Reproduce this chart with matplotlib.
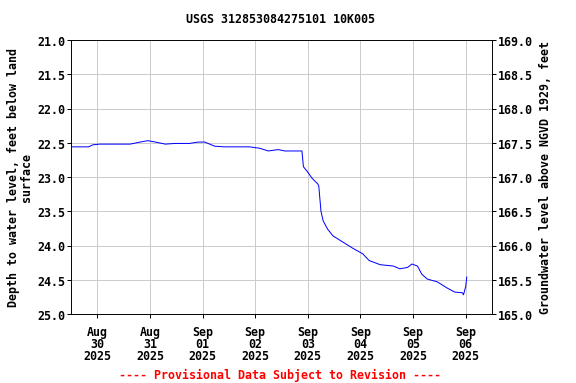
import matplotlib
matplotlib.use("Agg")
import matplotlib.pyplot as plt
import matplotlib.dates as mdates
import pandas as pd
import numpy as np

times = ["2025-08-29 12:00", "2025-08-29 20:00", "2025-08-29 22:00", "2025-08-30 01:00",
         "2025-08-30 15:00", "2025-08-30 19:30", "2025-08-30 23:00", "2025-08-31 02:30",
         "2025-08-31 07:00", "2025-08-31 11:30", "2025-08-31 18:00", "2025-08-31 22:00",
         "2025-09-01 01:00", "2025-09-01 05:30", "2025-09-01 10:00", "2025-09-01 21:30",
         "2025-09-02 02:00", "2025-09-02 06:00", "2025-09-02 10:30", "2025-09-02 13:30",
         "2025-09-02 21:20", "2025-09-02 22:00", "2025-09-03 00:00", "2025-09-03 02:00",
         "2025-09-03 04:30", "2025-09-03 05:00", "2025-09-03 06:00", "2025-09-03 07:00",
         "2025-09-03 09:00", "2025-09-03 11:30", "2025-09-03 16:00", "2025-09-03 20:30",
         "2025-09-04 01:00", "2025-09-04 04:00", "2025-09-04 09:00", "2025-09-04 15:00",
         "2025-09-04 18:00", "2025-09-04 21:30", "2025-09-04 23:30", "2025-09-05 02:00",
         "2025-09-05 04:00", "2025-09-05 06:30", "2025-09-05 11:00", "2025-09-05 15:30",
         "2025-09-05 19:00", "2025-09-05 22:30", "2025-09-05 23:00", "2025-09-06 00:00",
         "2025-09-06 00:30"]
depth = [22.56, 22.56, 22.53, 22.52, 22.52, 22.49, 22.47, 22.49,
         22.52, 22.51, 22.51, 22.49, 22.49, 22.55, 22.56, 22.56,
         22.58, 22.62, 22.60, 22.62, 22.62, 22.85, 22.93, 23.02,
         23.10, 23.13, 23.50, 23.64, 23.76, 23.86, 23.95, 24.04,
         24.12, 24.22, 24.28, 24.30, 24.34, 24.32, 24.27, 24.30,
         24.42, 24.49, 24.53, 24.62, 24.68, 24.69, 24.72, 24.60,
         24.46]
tick_days = ["2025-08-30", "2025-08-31", "2025-09-01", "2025-09-02",
             "2025-09-03", "2025-09-04", "2025-09-05", "2025-09-06"]
left_ticks = [21.0, 21.5, 22.0, 22.5, 23.0, 23.5, 24.0, 24.5, 25.0]
right_ticks = [169.0, 168.5, 168.0, 167.5, 167.0, 166.5, 166.0, 165.5, 165.0]
datum = 190.0

font = dict(family="DejaVu Sans Mono", fontweight="bold", fontsize=11.6)

fig = plt.figure(figsize=(8, 5.3333), dpi=72)
ax = fig.add_axes([71/576, 1-315/384, 421/576, 274/384])
t = pd.to_datetime(times)
ax.plot(t, depth, color="#0000FF", lw=1)
ax.set_xlim(pd.Timestamp("2025-08-29 12:00"), pd.Timestamp("2025-09-06 12:00"))
ax.set_ylim(25.0, 21.0)
ax.set_yticks(left_ticks)
ax.set_yticklabels([f"{v:.1f}" for v in left_ticks], **font)
td = pd.to_datetime(tick_days)
ax.set_xticks(td)
ax.set_xticklabels([d.strftime("%b\n%d\n%Y") for d in td], linespacing=0.92, **font)
ax.grid(True, color="#cccccc", lw=1)
ax.set_axisbelow(True)
ax.tick_params(direction="out", length=4, width=1, pad=2)
ax.tick_params(axis="x", pad=7)
ax.set_ylabel("Depth to water level, feet below land\nsurface", labelpad=4, linespacing=0.95, **font)

ax2 = ax.twinx()
ax2.set_ylim(datum - 25.0, datum - 21.0)
ax2.set_yticks(right_ticks)
ax2.set_yticklabels([f"{v:.1f}" for v in right_ticks], **font)
ax2.tick_params(direction="out", length=4, width=1, pad=2)
ax2.set_ylabel("Groundwater level above NGVD 1929, feet", labelpad=6, **font)

fig.text(280/576, 1-20/384, "USGS 312853084275101 10K005", ha="center", va="center", **font)
fig.text(280/576, 1-375/384, "---- Provisional Data Subject to Revision ----", ha="center",
         va="center", color="red", **font)

fig.savefig("out.png", dpi=72)
